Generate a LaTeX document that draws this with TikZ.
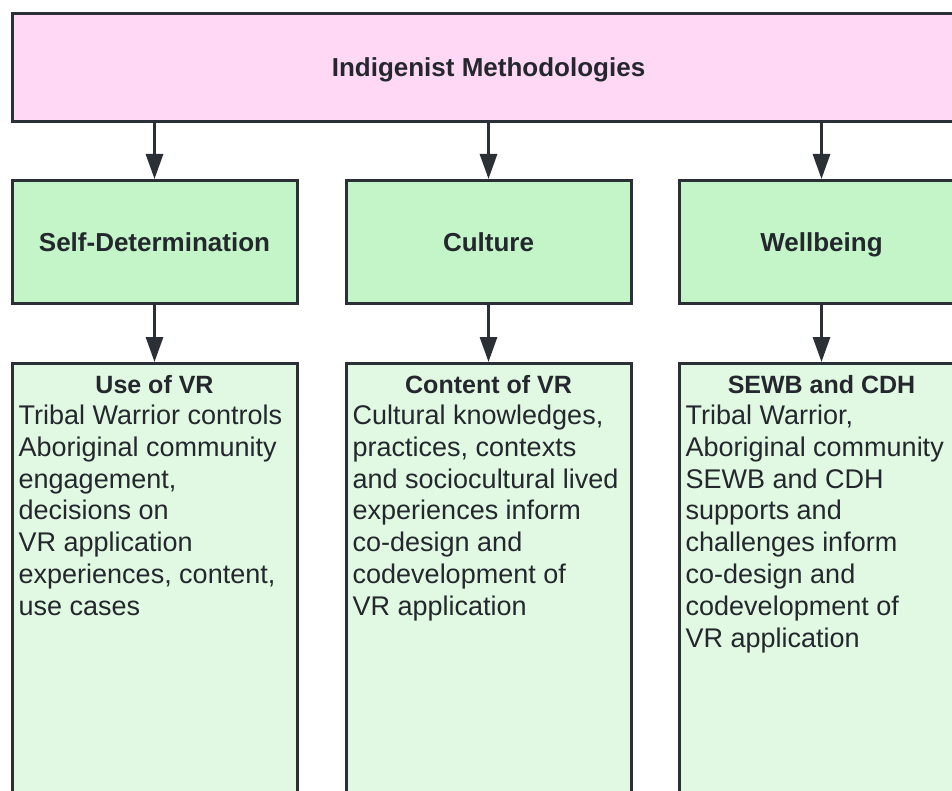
\documentclass[tikz,border=0pt]{standalone}
\usepackage{fontspec}
\setmainfont{Liberation Sans}
\usetikzlibrary{arrows.meta}
\definecolor{edge}{HTML}{2B2F36}
\definecolor{ink}{HTML}{24272D}
\definecolor{rootfill}{HTML}{FED8F5}
\definecolor{pillarfill}{HTML}{C3F5C8}
\definecolor{detailfill}{HTML}{E1F9E2}
\begin{document}
\begin{tikzpicture}[x=1pt,y=1pt,
  box/.style={draw=edge, line width=3pt, rectangle, inner sep=0pt, text=ink},
  heading/.style={font=\fontsize{26}{30}\selectfont\bfseries,
    text height=18.6pt, text depth=0pt},
  root/.style={box, heading, fill=rootfill, minimum width=952pt, minimum height=108pt},
  pillar/.style={box, heading, fill=pillarfill, minimum width=285pt, minimum height=123pt},
  detail/.style={box, fill=detailfill, minimum width=285pt, minimum height=560pt},
  dtitle/.style={anchor=base, inner sep=0pt, text=ink, font=\fontsize{25}{30}\selectfont\bfseries},
  dbody/.style={anchor=north west, inner sep=0pt, text=ink, align=left,
    font=\fontsize{27}{31.8}\selectfont},
  link/.style={draw=edge, line width=3pt, -{Triangle[length=25pt,width=17pt]}}
]
\useasboundingbox (0,0) rectangle (952,-791);
\fill[white] (0,0) rectangle (952,-791);

% top level
\node[root] (root) at (488.5,-67.5) {Indigenist Methodologies};

% three pillars
\node[pillar] (self) at (154.5,-242) {Self-Determination};
\node[pillar] (cult) at (488.5,-242) {Culture};
\node[pillar] (well) at (821.5,-242) {Wellbeing};

% detail boxes
\node[detail, anchor=north] (use)  at (154.5,-362) {};
\node[detail, anchor=north] (cont) at (488.5,-362) {};
\node[detail, anchor=north] (sewb) at (821.5,-362) {};

% detail titles
\node[dtitle] (usetitle)  at (154.5,-393.3) {Use of VR};
\node[dtitle] (conttitle) at (488.5,-393.3) {Content of VR};
\node[dtitle] (sewbtitle) at (821.5,-393.3) {SEWB and CDH};

% detail text
\node[dbody] (usetext) at (18.5,-404.3) {\rule{0pt}{20pt}Tribal Warrior controls\\
  Aboriginal community\\ engagement,\\ decisions on\\ VR application\\
  experiences, content,\\ use cases};
\node[dbody] (conttext) at (352.5,-404.3) {\rule{0pt}{20pt}Cultural knowledges,\\
  practices, contexts\\ and sociocultural lived\\ experiences inform\\
  co-design and\\ codevelopment of\\ VR application};
\node[dbody] (sewbtext) at (685.5,-404.3) {\rule{0pt}{20pt}Tribal Warrior,\\
  Aboriginal community\\ SEWB and CDH\\ supports and\\ challenges inform\\
  co-design and\\ codevelopment of\\ VR application};

% connectors
\draw[link] (root.south -| self.north) -- (self.north);
\draw[link] (root.south -| cult.north) -- (cult.north);
\draw[link] (root.south -| well.north) -- (well.north);
\draw[link] (self) -- (use);
\draw[link] (cult) -- (cont);
\draw[link] (well) -- (sewb);
\end{tikzpicture}
\end{document}
